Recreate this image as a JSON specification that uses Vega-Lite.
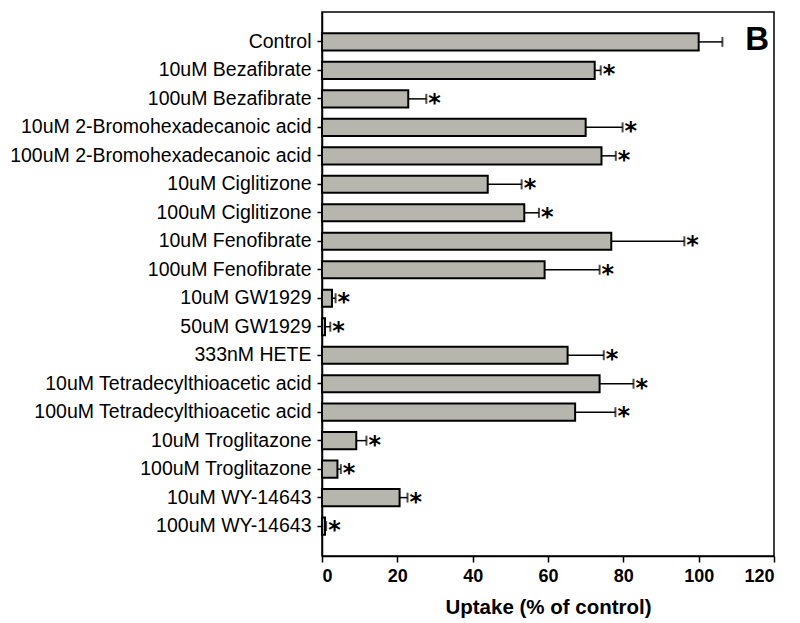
{
  "$schema": "https://vega.github.io/schema/vega-lite/v6.json",
  "width": 452,
  "height": 544,
  "padding": {"left": 9, "top": 12, "right": 22, "bottom": 5},
  "background": "white",
  "config": {"view": {"stroke": "black", "strokeWidth": 1.5}, "font": "Liberation Sans"},
  "data": {"values": [
    {"label": "Control", "value": 100, "err": 106.3, "star": ""},
    {"label": "10uM Bezafibrate", "value": 72.4, "err": 74.0, "star": "*"},
    {"label": "100uM Bezafibrate", "value": 22.9, "err": 27.7, "star": "*"},
    {"label": "10uM 2-Bromohexadecanoic acid", "value": 70.0, "err": 79.8, "star": "*"},
    {"label": "100uM 2-Bromohexadecanoic acid", "value": 74.2, "err": 78.0, "star": "*"},
    {"label": "10uM Ciglitizone", "value": 44.0, "err": 53.0, "star": "*"},
    {"label": "100uM Ciglitizone", "value": 53.7, "err": 57.6, "star": "*"},
    {"label": "10uM Fenofibrate", "value": 76.8, "err": 96.2, "star": "*"},
    {"label": "100uM Fenofibrate", "value": 59.1, "err": 73.7, "star": "*"},
    {"label": "10uM GW1929", "value": 2.65, "err": 3.6, "star": "*"},
    {"label": "50uM GW1929", "value": 0.8, "err": 2.2, "star": "*"},
    {"label": "333nM HETE", "value": 65.2, "err": 74.8, "star": "*"},
    {"label": "10uM Tetradecylthioacetic acid", "value": 73.7, "err": 82.7, "star": "*"},
    {"label": "100uM Tetradecylthioacetic acid", "value": 67.2, "err": 77.9, "star": "*"},
    {"label": "10uM Troglitazone", "value": 9.1, "err": 11.8, "star": "*"},
    {"label": "100uM Troglitazone", "value": 4.1, "err": 5.0, "star": "*"},
    {"label": "10uM WY-14643", "value": 20.6, "err": 22.7, "star": "*"},
    {"label": "100uM WY-14643", "value": 0.8, "err": 1.1, "star": "*"}
  ]},
  "encoding": {
    "y": {
      "field": "label", "type": "nominal", "sort": null,
      "scale": {"paddingInner": 0.4, "paddingOuter": 0.75},
      "axis": {
        "title": null, "labelFontSize": 19.5, "labelColor": "black", "labelLimit": 400,
        "tickColor": "black", "tickSize": 5, "tickWidth": 1.5, "labelPadding": 6,
        "domainColor": "black", "domainWidth": 1.5
      }
    }
  },
  "layer": [
    {
      "mark": {"type": "rule", "color": "black", "strokeWidth": 1.5},
      "encoding": {"x": {"field": "value", "type": "quantitative"}, "x2": {"field": "err"}}
    },
    {
      "mark": {"type": "tick", "orient": "vertical", "size": 10, "thickness": 2, "color": "black"},
      "encoding": {"x": {"field": "err", "type": "quantitative"}}
    },
    {
      "mark": {"type": "bar", "fill": "#b6b6ae", "stroke": "black", "strokeWidth": 2},
      "encoding": {
        "x": {
          "field": "value", "type": "quantitative",
          "scale": {"domain": [0, 120], "nice": false},
          "axis": {
            "values": [0, 20, 40, 60, 80, 100, 120], "grid": false,
            "title": "Uptake (% of control)", "titleFontSize": 20.5, "titleFontWeight": "bold",
            "titleColor": "black", "titlePadding": 12,
            "labelFontSize": 18, "labelFontWeight": "bold", "labelColor": "black", "labelPadding": 5,
            "tickSize": 6, "tickWidth": 1.5, "tickColor": "black",
            "domainColor": "black", "domainWidth": 1.5
          }
        }
      }
    },
    {
      "mark": {"type": "text", "align": "left", "baseline": "alphabetic", "dx": 2, "dy": 12, "fontSize": 24, "font": "DejaVu Sans", "fontWeight": "bold", "color": "black"},
      "encoding": {"x": {"field": "err", "type": "quantitative"}, "text": {"field": "star"}}
    },
    {
      "data": {"values": [{"label": "Control", "pos": 120, "t": "B"}]},
      "mark": {"type": "text", "align": "right", "baseline": "alphabetic", "dx": -5, "dy": 8, "fontSize": 33, "fontWeight": "bold", "color": "black"},
      "encoding": {"x": {"field": "pos", "type": "quantitative"}, "text": {"field": "t"}}
    }
  ]
}
